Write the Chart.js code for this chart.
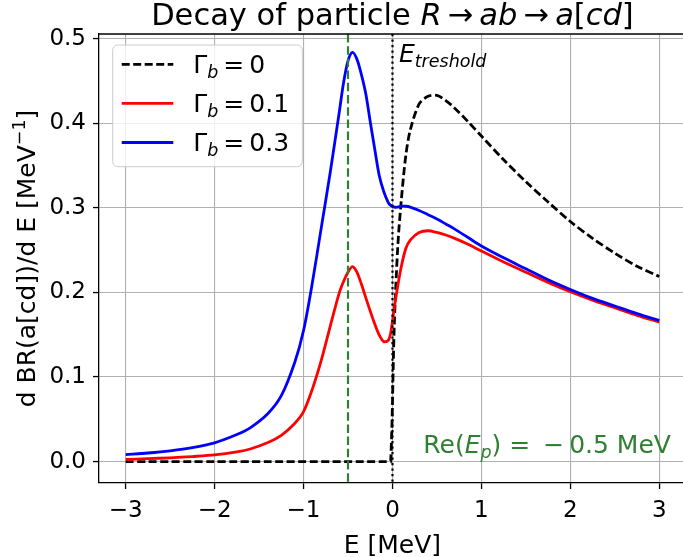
<!DOCTYPE html>
<html>
<head>
<meta charset="utf-8">
<script src="https://cdn.jsdelivr.net/npm/chart.js@4.4.0/dist/chart.umd.min.js"></script>
<style>
  html, body { margin: 0; padding: 0; background: #fff; overflow: hidden; }
  #wrap { width: 683px; height: 557px; }
</style>
</head>
<body>
<div id="wrap"><canvas id="decayChart" width="683" height="557"></canvas></div>
<script>
// energy grid [MeV]
const energy = [-3.0, -2.75, -2.5, -2.25, -2.0, -1.75, -1.6, -1.4, -1.25, -1.1,
  -1.0, -0.9, -0.8, -0.7, -0.6, -0.55, -0.5, -0.45, -0.4, -0.35,
  -0.3, -0.25, -0.2, -0.15, -0.1, -0.05, -0.02, 0.02, 0.06, 0.1,
  0.15, 0.2, 0.3, 0.4, 0.5, 0.6, 0.7, 0.85, 1.0, 1.25,
  1.5, 1.75, 2.0, 2.25, 2.5, 2.75, 3.0];

// d BR / d E for each width of b
const brGamma0 = [0, 0, 0, 0, 0, 0, 0, 0, 0, 0,
  0, 0, 0, 0, 0, 0, 0, 0, 0, 0,
  0, 0, 0, 0, 0, 0, 0, 0.16, 0.255, 0.31,
  0.362, 0.392, 0.423, 0.432, 0.433, 0.427, 0.418, 0.402, 0.385, 0.357,
  0.331, 0.307, 0.284, 0.264, 0.2465, 0.231, 0.219];
const brGamma01 = [0.0026, 0.0035, 0.0045, 0.006, 0.0079, 0.0115, 0.0149, 0.0225, 0.031, 0.045,
  0.059, 0.086, 0.12, 0.16, 0.199, 0.213, 0.224, 0.2305, 0.224, 0.21,
  0.194, 0.178, 0.163, 0.15, 0.142, 0.143, 0.152, 0.182, 0.208, 0.231,
  0.252, 0.262, 0.271, 0.273, 0.271, 0.268, 0.264, 0.257, 0.249, 0.236,
  0.224, 0.212, 0.201, 0.191, 0.182, 0.173, 0.165];
const brGamma03 = [0.0083, 0.0102, 0.0128, 0.0165, 0.0222, 0.032, 0.040, 0.057, 0.078, 0.117,
  0.155, 0.212, 0.277, 0.342, 0.412, 0.448, 0.474, 0.484, 0.476, 0.458,
  0.435, 0.402, 0.37, 0.339, 0.32, 0.307, 0.303, 0.301, 0.301, 0.302,
  0.302, 0.301, 0.297, 0.292, 0.287, 0.281, 0.275, 0.265, 0.255, 0.241,
  0.228, 0.215, 0.2035, 0.193, 0.184, 0.175, 0.167];

const gammaB = ['0', '0.1', '0.3'];
const xTicks = [-3, -2, -1, 0, 1, 2, 3];
const yTicks = [0.0, 0.1, 0.2, 0.3, 0.4, 0.5];
const poleRe = -0.5;
const threshold = 0;

const FAM = '"DejaVu Sans"';
const GREEN = 'rgb(48,128,52)';

function font(size, italic) {
  return (italic ? 'italic ' : '') + size + 'px ' + FAM;
}
function sub(text, size) {
  return { text: text, size: size * 0.7, italic: true, dy: size * 0.2 };
}
function runsWidth(ctx, runs) {
  let w = 0;
  runs.forEach(r => {
    if (r.space) { w += r.space; return; }
    ctx.font = font(r.size, r.italic);
    w += ctx.measureText(r.text).width;
  });
  return w;
}
function drawRuns(ctx, runs, x, y, color) {
  ctx.fillStyle = color;
  ctx.textAlign = 'left';
  ctx.textBaseline = 'alphabetic';
  runs.forEach(r => {
    if (r.space) { x += r.space; return; }
    ctx.font = font(r.size, r.italic);
    ctx.fillText(r.text, x, y + (r.dy || 0));
    x += ctx.measureText(r.text).width;
  });
}

function toPoints(ys) {
  return energy.map((e, i) => ({ x: e, y: ys[i] }));
}

const lineStyles = [
  { color: '#000000', dash: [8, 3.5] },
  { color: '#ff0000', dash: [] },
  { color: '#0000ff', dash: [] }
];

const decorations = {
  id: 'decorations',
  afterDatasetsDraw(chart) {
    const ctx = chart.ctx;
    const a = chart.chartArea;
    const xs = chart.scales.x;
    ctx.save();
    ctx.beginPath();
    ctx.rect(a.left, a.top, a.right - a.left, a.bottom - a.top);
    ctx.clip();

    // pole position
    let px = xs.getPixelForValue(poleRe);
    ctx.strokeStyle = GREEN;
    ctx.lineWidth = 2.2;
    ctx.setLineDash([8.5, 3.7]);
    ctx.beginPath();
    ctx.moveTo(px, a.top);
    ctx.lineTo(px, a.bottom);
    ctx.stroke();

    // threshold
    px = xs.getPixelForValue(threshold);
    ctx.strokeStyle = '#000';
    ctx.lineWidth = 2.2;
    ctx.setLineDash([2.2, 3.3]);
    ctx.beginPath();
    ctx.moveTo(px, a.top);
    ctx.lineTo(px, a.bottom);
    ctx.stroke();
    ctx.setLineDash([]);
    ctx.restore();

    // labels
    const s = 25;
    drawRuns(ctx, [{ text: 'E', size: s, italic: true }, sub('treshold', s)], px + 6.5, 61.5, '#000');
    drawRuns(ctx, [
      { text: 'Re(', size: s }, { text: 'E', size: s, italic: true }, sub('p', s),
      { text: ')', size: s }, { text: ' = ', size: s }, { space: 0.2 * s },
      { text: '\u2212', size: s }, { space: 0.2 * s }, { text: '0.5 MeV', size: s }
    ], 423.3, 452.7, GREEN);
  },
  afterDraw(chart) {
    const ctx = chart.ctx;
    const a = chart.chartArea;

    // top spine
    ctx.save();
    ctx.strokeStyle = '#000';
    ctx.lineWidth = 1.3;
    ctx.beginPath();
    ctx.moveTo(a.left, a.top);
    ctx.lineTo(a.right, a.top);
    ctx.stroke();
    ctx.restore();

    const axisMid = (a.left + 685.9) / 2;

    // title
    const t = 30.5;
    const title = [
      { text: 'Decay of particle ', size: t }, { text: 'R', size: t, italic: true },
      { space: 0.2 * t }, { text: '\u2192', size: t }, { space: 0.2 * t },
      { text: 'ab', size: t, italic: true },
      { space: 0.2 * t }, { text: '\u2192', size: t }, { space: 0.2 * t },
      { text: 'a', size: t, italic: true }, { text: '[', size: t },
      { text: 'cd', size: t, italic: true }, { text: ']', size: t }
    ];
    drawRuns(ctx, title, axisMid - runsWidth(ctx, title) / 2, 24.5, '#000');

    // axis titles
    const s = 25;
    const xl = [{ text: 'E [MeV]', size: s }];
    drawRuns(ctx, xl, axisMid - runsWidth(ctx, xl) / 2, 553, '#000');

    const yl = [
      { text: 'd BR(a[cd])/d E [MeV', size: s },
      { text: '\u22121', size: s * 0.7, dy: -s * 0.4 },
      { text: ']', size: s }
    ];
    ctx.save();
    ctx.translate(34.5, (a.top + a.bottom) / 2);
    ctx.rotate(-Math.PI / 2);
    drawRuns(ctx, yl, -runsWidth(ctx, yl) / 2, 0, '#000');
    ctx.restore();

    // legend
    const bx = 112.7, by = 45, bw = 189.6, bh = 121.7;
    ctx.save();
    ctx.beginPath();
    ctx.roundRect(bx, by, bw, bh, 5);
    ctx.fillStyle = 'rgba(255,255,255,0.8)';
    ctx.fill();
    ctx.strokeStyle = '#cccccc';
    ctx.lineWidth = 1;
    ctx.stroke();
    chart.data.datasets.forEach((ds, i) => {
      const hy = 64.3 + i * 39.1;
      ctx.strokeStyle = ds.borderColor;
      ctx.lineWidth = 2.8;
      ctx.setLineDash(ds.borderDash || []);
      ctx.beginPath();
      ctx.moveTo(121.7, hy);
      ctx.lineTo(173.3, hy);
      ctx.stroke();
      ctx.setLineDash([]);
      drawRuns(ctx, [
        { text: '\u0393', size: s }, sub('b', s), { space: 0.2 * s },
        { text: '=', size: s }, { space: 0.2 * s }, { text: gammaB[i], size: s }
      ], 193.3, hy + 8.4, '#000');
    });
    ctx.restore();
  }
};

const series = [brGamma0, brGamma01, brGamma03];

new Chart(document.getElementById('decayChart'), {
  type: 'scatter',
  data: {
    datasets: series.map((ys, i) => ({
      label: '\u0393b = ' + gammaB[i],
      data: toPoints(ys),
      showLine: true,
      borderColor: lineStyles[i].color,
      borderDash: lineStyles[i].dash,
      borderWidth: 2.8,
      pointRadius: 0,
      tension: 0.3,
      order: 3 - i
    }))
  },
  options: {
    responsive: false,
    animation: false,
    devicePixelRatio: 1,
    layout: { padding: { top: 34, left: 0, right: 0, bottom: 0 } },
    plugins: {
      legend: { display: false },
      tooltip: { enabled: false },
      title: { display: false }
    },
    scales: {
      x: {
        type: 'linear',
        min: -3.3,
        max: 3.267,
        afterBuildTicks: s => { s.ticks = xTicks.map(v => ({ value: v })); },
        afterFit: s => { s.height = 74; },
        grid: { color: '#b0b0b0', lineWidth: 1.1, tickColor: '#000', tickLength: 6, tickWidth: 1.3 },
        border: { color: '#000', width: 1.3 },
        ticks: {
          font: { family: 'DejaVu Sans', size: 23 },
          color: '#000',
          padding: 8,
          maxRotation: 0,
          autoSkip: false,
          callback: v => (v < 0 ? '\u2212' + Math.abs(v) : String(v))
        }
      },
      y: {
        min: -0.0253,
        max: 0.5057,
        afterBuildTicks: s => { s.ticks = yTicks.map(v => ({ value: v })); },
        afterFit: s => { s.width = 99; },
        grid: { color: '#b0b0b0', lineWidth: 1.1, tickColor: '#000', tickLength: 6, tickWidth: 1.3 },
        border: { color: '#000', width: 1.3 },
        ticks: {
          font: { family: 'DejaVu Sans', size: 23 },
          color: '#000',
          padding: 7,
          callback: v => v.toFixed(1)
        }
      }
    }
  },
  plugins: [decorations]
});
</script>
</body>
</html>
